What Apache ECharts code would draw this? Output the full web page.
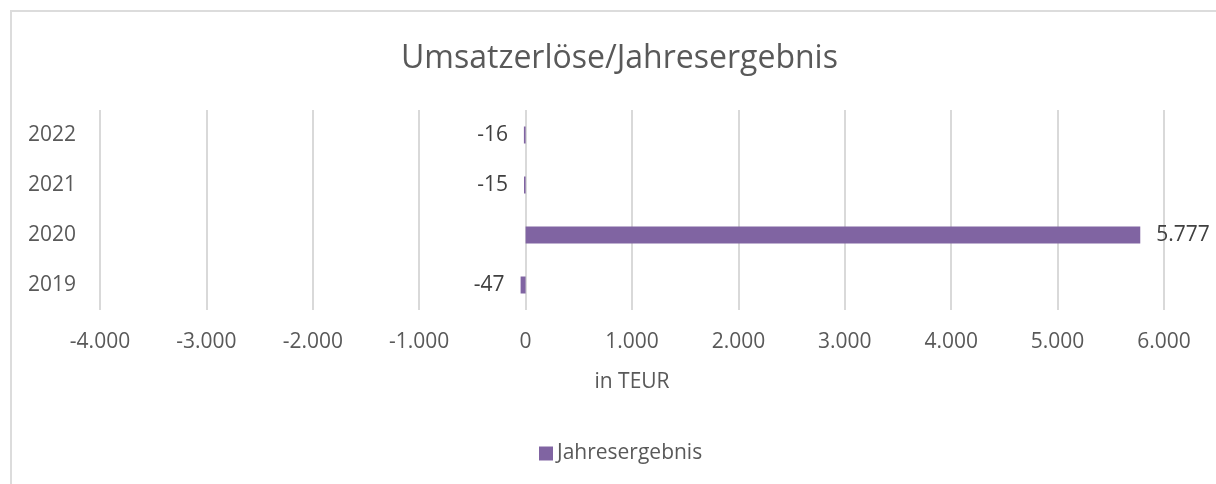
<!DOCTYPE html>
<html>
<head>
<meta charset="utf-8">
<script src="https://cdn.jsdelivr.net/npm/echarts@6/dist/echarts.min.js"></script>
<style>
    html, body { margin: 0; padding: 0; background: #fff; }
    #chart { width: 1216px; height: 484px; }
</style>
</head>
<body>
<div id="chart"></div>
<script>
// data
const years = ['2019', '2020', '2021', '2022'];
const result = [-47, 5777, -15, -16];
const xMin = -4000;
const xMax = 6000;
const xStep = 1000;

function fmtDe(v) {
    const s = String(Math.abs(v)).replace(/\B(?=(\d{3})+(?!\d))/g, '.');
    return (v < 0 ? '-' : '') + s;
}

const textColor = '#595959';
const barColor = '#8064a2';

const chart = echarts.init(document.getElementById('chart'));
chart.setOption({
    animation: false,
    textStyle: { fontFamily: 'Open Sans, sans-serif' },
    graphic: [{
        type: 'rect',
        shape: { x: 11, y: 11, width: 1300, height: 500 },
        style: { fill: 'none', stroke: '#dcdcdc', lineWidth: 2 },
        silent: true
    }],
    title: {
        text: 'Umsatzerlöse/Jahresergebnis',
        left: 396,
        top: 38,
        textStyle: { color: textColor, fontSize: 32, fontWeight: 'normal', fontFamily: 'Open Sans, sans-serif' }
    },
    legend: {
        bottom: 15,
        left: 534,
        itemWidth: 14,
        itemHeight: 14,
        icon: 'rect',
        textStyle: { color: textColor, fontSize: 21, padding: [0, 0, 0, -1] },
        data: ['Jahresergebnis']
    },
    grid: {
        left: 100,
        right: 52,
        top: 110,
        height: 200
    },
    xAxis: {
        type: 'value',
        min: xMin,
        max: xMax,
        interval: xStep,
        name: 'in TEUR',
        nameLocation: 'middle',
        nameGap: 62,
        nameTextStyle: { color: textColor, fontSize: 21 },
        axisLine: { show: false },
        axisTick: { show: false },
        axisLabel: { color: textColor, fontSize: 21, margin: 22, formatter: fmtDe },
        splitLine: { lineStyle: { color: '#d9d9d9', width: 2 } }
    },
    yAxis: {
        type: 'category',
        data: years,
        axisLine: { show: false },
        axisTick: { show: false },
        axisLabel: { color: textColor, fontSize: 21, margin: 24 }
    },
    series: [{
        name: 'Jahresergebnis',
        type: 'bar',
        barWidth: 17,
        itemStyle: { color: barColor },
        label: {
            show: true,
            color: '#404040',
            fontSize: 21,
            distance: 16,
            formatter: p => fmtDe(p.value)
        },
        data: result.map(v => ({
            value: v,
            label: { position: v < 0 ? 'left' : 'right' }
        }))
    }]
});
</script>
</body>
</html>
